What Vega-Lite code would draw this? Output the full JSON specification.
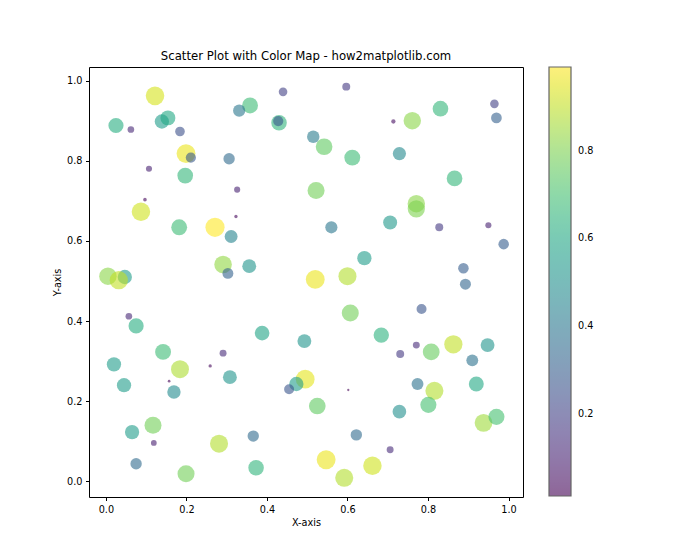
{
  "$schema": "https://vega.github.io/schema/vega-lite/v6.json",
  "autosize": {"type": "none"},
  "padding": {"left": 89, "top": 67, "right": 177, "bottom": 63},
  "width": 434,
  "height": 430,
  "title": {"text": "Scatter Plot with Color Map - how2matplotlib.com", "font": "DejaVu Sans", "fontSize": 11.7, "fontWeight": "normal", "color": "black", "offset": 4, "anchor": "middle"},
  "data": {"values": [
    {"x": 0.122, "y": 0.962, "c": 0.93},
    {"x": 0.440, "y": 0.972, "c": 0.20},
    {"x": 0.597, "y": 0.985, "c": 0.17},
    {"x": 0.965, "y": 0.942, "c": 0.20},
    {"x": 0.970, "y": 0.907, "c": 0.31},
    {"x": 0.831, "y": 0.930, "c": 0.66},
    {"x": 0.761, "y": 0.900, "c": 0.82},
    {"x": 0.714, "y": 0.898, "c": 0.05},
    {"x": 0.358, "y": 0.938, "c": 0.68},
    {"x": 0.331, "y": 0.925, "c": 0.40},
    {"x": 0.430, "y": 0.895, "c": 0.65},
    {"x": 0.428, "y": 0.899, "c": 0.28},
    {"x": 0.515, "y": 0.860, "c": 0.42},
    {"x": 0.542, "y": 0.835, "c": 0.75},
    {"x": 0.612, "y": 0.808, "c": 0.68},
    {"x": 0.729, "y": 0.818, "c": 0.47},
    {"x": 0.025, "y": 0.888, "c": 0.62},
    {"x": 0.062, "y": 0.878, "c": 0.12},
    {"x": 0.139, "y": 0.898, "c": 0.55},
    {"x": 0.154, "y": 0.907, "c": 0.60},
    {"x": 0.184, "y": 0.873, "c": 0.25},
    {"x": 0.199, "y": 0.818, "c": 0.96},
    {"x": 0.211, "y": 0.808, "c": 0.28},
    {"x": 0.306, "y": 0.805, "c": 0.35},
    {"x": 0.107, "y": 0.780, "c": 0.10},
    {"x": 0.197, "y": 0.763, "c": 0.66},
    {"x": 0.326, "y": 0.728, "c": 0.10},
    {"x": 0.522, "y": 0.726, "c": 0.78},
    {"x": 0.866, "y": 0.756, "c": 0.66},
    {"x": 0.097, "y": 0.703, "c": 0.035},
    {"x": 0.087, "y": 0.673, "c": 0.92},
    {"x": 0.323, "y": 0.661, "c": 0.03},
    {"x": 0.271, "y": 0.634, "c": 0.99},
    {"x": 0.182, "y": 0.634, "c": 0.68},
    {"x": 0.311, "y": 0.611, "c": 0.45},
    {"x": 0.560, "y": 0.634, "c": 0.40},
    {"x": 0.706, "y": 0.646, "c": 0.53},
    {"x": 0.771, "y": 0.693, "c": 0.82},
    {"x": 0.771, "y": 0.680, "c": 0.80},
    {"x": 0.828, "y": 0.634, "c": 0.17},
    {"x": 0.950, "y": 0.639, "c": 0.10},
    {"x": 0.988, "y": 0.592, "c": 0.30},
    {"x": 0.005, "y": 0.512, "c": 0.82},
    {"x": 0.047, "y": 0.510, "c": 0.55},
    {"x": 0.032, "y": 0.502, "c": 0.90},
    {"x": 0.291, "y": 0.541, "c": 0.83},
    {"x": 0.303, "y": 0.519, "c": 0.32},
    {"x": 0.356, "y": 0.537, "c": 0.52},
    {"x": 0.520, "y": 0.504, "c": 0.96},
    {"x": 0.600, "y": 0.512, "c": 0.88},
    {"x": 0.642, "y": 0.557, "c": 0.55},
    {"x": 0.888, "y": 0.532, "c": 0.30},
    {"x": 0.893, "y": 0.492, "c": 0.33},
    {"x": 0.784, "y": 0.430, "c": 0.27},
    {"x": 0.057, "y": 0.412, "c": 0.12},
    {"x": 0.075, "y": 0.388, "c": 0.62},
    {"x": 0.607, "y": 0.420, "c": 0.78},
    {"x": 0.388, "y": 0.370, "c": 0.58},
    {"x": 0.493, "y": 0.350, "c": 0.52},
    {"x": 0.684, "y": 0.365, "c": 0.64},
    {"x": 0.731, "y": 0.318, "c": 0.17},
    {"x": 0.771, "y": 0.340, "c": 0.13},
    {"x": 0.808, "y": 0.323, "c": 0.76},
    {"x": 0.863, "y": 0.342, "c": 0.90},
    {"x": 0.948, "y": 0.340, "c": 0.52},
    {"x": 0.910, "y": 0.302, "c": 0.38},
    {"x": 0.020, "y": 0.292, "c": 0.55},
    {"x": 0.045, "y": 0.240, "c": 0.55},
    {"x": 0.142, "y": 0.323, "c": 0.68},
    {"x": 0.184, "y": 0.280, "c": 0.87},
    {"x": 0.157, "y": 0.250, "c": 0.02},
    {"x": 0.291, "y": 0.320, "c": 0.13},
    {"x": 0.259, "y": 0.288, "c": 0.03},
    {"x": 0.308, "y": 0.260, "c": 0.52},
    {"x": 0.169, "y": 0.223, "c": 0.48},
    {"x": 0.495, "y": 0.255, "c": 0.95},
    {"x": 0.473, "y": 0.243, "c": 0.55},
    {"x": 0.455, "y": 0.230, "c": 0.27},
    {"x": 0.525, "y": 0.188, "c": 0.75},
    {"x": 0.602, "y": 0.228, "c": 0.014},
    {"x": 0.774, "y": 0.243, "c": 0.38},
    {"x": 0.816, "y": 0.226, "c": 0.88},
    {"x": 0.920, "y": 0.243, "c": 0.60},
    {"x": 0.801, "y": 0.191, "c": 0.70},
    {"x": 0.729, "y": 0.174, "c": 0.50},
    {"x": 0.938, "y": 0.146, "c": 0.85},
    {"x": 0.970, "y": 0.161, "c": 0.70},
    {"x": 0.117, "y": 0.140, "c": 0.78},
    {"x": 0.065, "y": 0.123, "c": 0.55},
    {"x": 0.119, "y": 0.096, "c": 0.09},
    {"x": 0.281, "y": 0.094, "c": 0.88},
    {"x": 0.075, "y": 0.044, "c": 0.35},
    {"x": 0.199, "y": 0.019, "c": 0.78},
    {"x": 0.366, "y": 0.113, "c": 0.35},
    {"x": 0.622, "y": 0.116, "c": 0.35},
    {"x": 0.547, "y": 0.054, "c": 0.96},
    {"x": 0.373, "y": 0.034, "c": 0.65},
    {"x": 0.592, "y": 0.009, "c": 0.88},
    {"x": 0.662, "y": 0.039, "c": 0.92},
    {"x": 0.706, "y": 0.079, "c": 0.13}
  ]},
  "mark": {"type": "circle", "opacity": 0.6},
  "encoding": {
    "x": {"field": "x", "type": "quantitative", "scale": {"domain": [-0.042, 1.036], "nice": false, "zero": false},
      "axis": {"title": "X-axis", "values": [0, 0.2, 0.4, 0.6, 0.8, 1.0], "format": ".1f"}},
    "y": {"field": "y", "type": "quantitative", "scale": {"domain": [-0.039, 1.034], "nice": false, "zero": false},
      "axis": {"title": "Y-axis", "values": [0, 0.2, 0.4, 0.6, 0.8, 1.0], "format": ".1f"}},
    "color": {"field": "c", "type": "quantitative", "scale": {"scheme": "viridis", "domain": [0.014, 0.99]},
      "legend": {"title": null, "values": [0.2, 0.4, 0.6, 0.8], "format": ".1f", "gradientLength": 429, "gradientThickness": 22, "gradientOpacity": 0.6, "gradientStrokeColor": "black", "gradientStrokeWidth": 1.2, "offset": 26, "labelFont": "DejaVu Sans", "labelFontSize": 9.7, "labelColor": "black", "labelOffset": 7}},
    "size": {"field": "c", "type": "quantitative", "scale": {"domain": [0, 1], "range": [0, 371]}, "legend": null}
  },
  "config": {
    "view": {"stroke": "black", "strokeWidth": 1},
    "axis": {"grid": false, "domain": false, "tickColor": "black", "tickSize": 3.5, "labelPadding": 3.5, "labelFont": "DejaVu Sans", "labelFontSize": 9.7, "labelColor": "black", "titleFont": "DejaVu Sans", "titleFontSize": 9.7, "titleFontWeight": "normal", "titleColor": "black", "titlePadding": 4}
  }
}
